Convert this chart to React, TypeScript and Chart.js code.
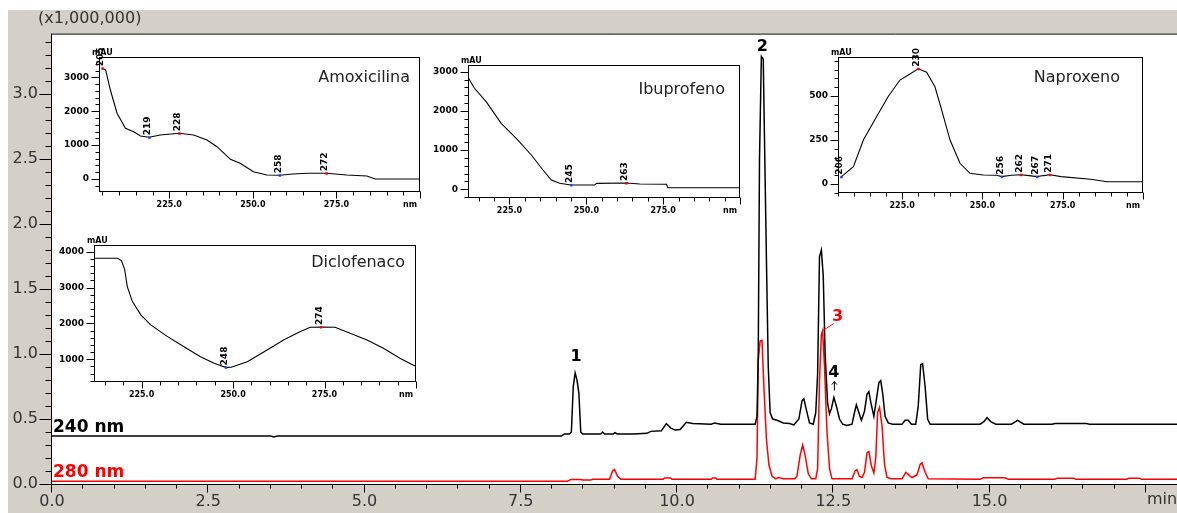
import React, { useEffect, useRef } from 'react';
import { Chart, registerables } from 'chart.js';

Chart.register(...registerables);

// Chromatogram, 240 nm channel: [retention time (min), signal (x1,000,000)]
const trace240: [number, number][] = [
  [0, 0.37], [3.5, 0.37], [3.55, 0.362], [3.6, 0.37], [8.15, 0.37], [8.2, 0.385],
  [8.28, 0.385], [8.31, 0.4], [8.34, 0.75], [8.37, 0.855], [8.4, 0.8], [8.43, 0.7], [8.46, 0.4], [8.49, 0.385],
  [8.78, 0.385], [8.81, 0.4], [8.84, 0.385], [8.98, 0.385], [9.01, 0.395], [9.04, 0.385], [9.3, 0.385],
  [9.52, 0.39], [9.58, 0.405], [9.75, 0.41], [9.83, 0.465], [9.9, 0.43], [9.97, 0.415], [10.05, 0.42],
  [10.15, 0.475], [10.25, 0.465], [10.55, 0.46], [10.6, 0.47], [10.7, 0.46], [11.25, 0.46],
  [11.28, 0.52], [11.3, 1.0], [11.32, 2.5], [11.35, 3.29], [11.38, 3.27], [11.4, 2.65], [11.43, 1.75],
  [11.46, 0.9], [11.49, 0.55], [11.53, 0.5], [11.6, 0.49], [11.7, 0.47], [11.8, 0.465], [11.87, 0.455],
  [11.95, 0.5], [12.0, 0.64], [12.03, 0.655], [12.07, 0.57], [12.12, 0.47], [12.18, 0.46],
  [12.22, 0.55], [12.25, 0.85], [12.28, 1.75], [12.31, 1.8], [12.34, 1.6], [12.37, 1.0], [12.41, 0.62],
  [12.44, 0.54], [12.47, 0.58], [12.51, 0.665], [12.55, 0.6], [12.6, 0.5], [12.65, 0.46], [12.72, 0.45],
  [12.8, 0.46], [12.84, 0.55], [12.87, 0.61], [12.91, 0.55], [12.95, 0.49], [13.0, 0.56], [13.04, 0.69],
  [13.07, 0.71], [13.1, 0.63], [13.15, 0.52], [13.19, 0.65], [13.23, 0.78], [13.26, 0.795], [13.29, 0.7],
  [13.33, 0.52], [13.38, 0.47], [13.45, 0.46], [13.6, 0.46], [13.65, 0.49], [13.7, 0.49], [13.75, 0.46],
  [13.82, 0.46], [13.86, 0.6], [13.9, 0.92], [13.93, 0.925], [13.97, 0.75], [14.01, 0.5], [14.05, 0.46],
  [14.85, 0.46], [14.91, 0.48], [14.96, 0.51], [15.02, 0.48], [15.1, 0.46], [15.35, 0.46], [15.45, 0.49],
  [15.55, 0.46], [16.0, 0.46], [16.05, 0.465], [16.55, 0.465], [16.6, 0.46], [17.2, 0.46], [18.0, 0.46],
];

// Chromatogram, 280 nm channel
const trace280: [number, number][] = [
  [0, 0.022], [8.25, 0.022], [8.3, 0.035], [8.45, 0.035], [8.5, 0.03], [8.62, 0.03], [8.65, 0.036],
  [8.92, 0.036], [8.97, 0.1], [9.0, 0.112], [9.05, 0.06], [9.1, 0.036], [9.78, 0.036], [9.8, 0.046],
  [9.9, 0.046], [9.92, 0.036], [10.55, 0.036], [10.57, 0.046], [10.62, 0.046], [10.64, 0.036],
  [11.25, 0.036], [11.28, 0.2], [11.3, 0.95], [11.33, 1.1], [11.36, 1.105], [11.39, 0.75], [11.43, 0.35],
  [11.47, 0.15], [11.52, 0.06], [11.58, 0.04], [11.62, 0.05], [11.7, 0.04], [11.88, 0.04], [11.92, 0.06],
  [11.97, 0.22], [12.01, 0.3], [12.05, 0.22], [12.1, 0.08], [12.15, 0.04], [12.22, 0.04], [12.25, 0.12],
  [12.28, 0.8], [12.31, 1.15], [12.33, 1.18], [12.36, 0.9], [12.4, 0.4], [12.44, 0.12], [12.48, 0.04],
  [12.8, 0.04], [12.85, 0.1], [12.88, 0.11], [12.92, 0.06], [12.96, 0.05], [13.0, 0.09], [13.04, 0.24],
  [13.07, 0.25], [13.11, 0.14], [13.15, 0.085], [13.18, 0.2], [13.21, 0.55], [13.24, 0.59], [13.28, 0.45],
  [13.32, 0.15], [13.36, 0.05], [13.42, 0.04], [13.6, 0.04], [13.66, 0.09], [13.72, 0.065], [13.76, 0.05],
  [13.84, 0.07], [13.89, 0.15], [13.92, 0.163], [13.97, 0.09], [14.02, 0.04], [14.85, 0.036], [14.9, 0.048],
  [15.25, 0.048], [15.3, 0.036], [16.05, 0.036], [16.08, 0.045], [16.35, 0.045], [16.38, 0.036],
  [17.2, 0.036], [17.23, 0.045], [17.4, 0.045], [17.43, 0.036], [18.0, 0.036],
];

const timeTicks = [0, 2.5, 5, 7.5, 10, 12.5, 15, 17.5];
const signalTicks = [0, 0.5, 1, 1.5, 2, 2.5, 3];

// Numbered peaks: label, retention time, channel it is marked on
const peakNames = ['1', '2', '3', '4'];
const peakTimes = [8.37, 11.35, 12.33, 12.51];
const peakChannels = ['240', '240', '280', '240'];

// UV spectra of the peaks: [wavelength (nm), absorbance (mAU)]
const amoxicilinaSpectrum: [number, number][] = [
  [205, 3265], [206, 3215], [207.4, 2625], [209.4, 1940], [211.9, 1495], [214.4, 1395], [216.4, 1268],
  [219, 1230], [222.3, 1298], [228, 1348], [232.3, 1298], [236.3, 1150], [239.3, 953], [243.3, 580],
  [246.2, 463], [250.2, 215], [254.2, 118], [258, 112], [262, 150], [266.2, 168], [272, 170], [278.1, 118],
  [284.1, 88], [286.6, 0], [300, 0],
];
const amoxicilinaMarks: [number, string][] = [[205, 'max'], [219, 'min'], [228, 'max'], [258, 'min'], [272, 'max']];

const ibuprofenoSpectrum: [number, number][] = [
  [211.7, 2832], [213.6, 2577], [217.4, 2235], [222.3, 1684], [227.2, 1301], [232.1, 875], [235.9, 492],
  [238.6, 237], [241.3, 153], [245, 110], [252.7, 110], [253.4, 150], [263, 160], [267.4, 135],
  [276.1, 130], [276.5, 41], [300, 41],
];
const ibuprofenoMarks: [number, string][] = [[245, 'min'], [263, 'max']];

const naproxenoSpectrum: [number, number][] = [
  [206, 41], [209.8, 98], [212.9, 250], [217, 382], [220.6, 496], [224.3, 591], [226.9, 620], [230, 655],
  [232.6, 635], [235.2, 553], [237.3, 420], [239.9, 250], [243, 118], [246.1, 61], [250.2, 51], [254.4, 50],
  [256, 42], [259, 50], [262, 53], [264.5, 48], [267, 42], [269, 48], [271, 53], [274.5, 42], [283.7, 27],
  [288.8, 13], [300, 13],
];
const naproxenoMarks: [number, string][] = [[206, 'min'], [230, 'max'], [256, 'min'], [262, 'max'], [267, 'min'], [271, 'max']];

const diclofenacoSpectrum: [number, number][] = [
  [212.3, 3816], [218.4, 3816], [219.5, 3750], [220.4, 3490], [221.1, 3025], [222.5, 2607], [224.8, 2237],
  [227.5, 1958], [232.1, 1632], [236.6, 1351], [241.1, 1073], [244.8, 888], [248, 775], [249.5, 777],
  [253.9, 934], [259.3, 1262], [263.8, 1540], [268.4, 1772], [271.1, 1894], [274, 1900], [277.9, 1894],
  [282, 1727], [286.6, 1540], [291.1, 1309], [295.6, 1030], [299.7, 816],
];
const diclofenacoMarks: [number, string][] = [[248, 'min'], [274, 'max']];

const spectrumTicks = [225, 250, 275];

// ---- layout ----
const PANEL_X = 8;
const PANEL_Y = 10;
const PANEL_W = 1169;
const PANEL_H = 503;
const PAD_L = 44;
const PAD_T = 18;
const PAD_R = 6;
const PAD_B = 22;

const AXIS_FONT = "'DejaVu Sans', sans-serif";

interface InsetCfg {
  name: string;
  points: [number, number][];
  marks: [number, string][];
  xMin: number;
  yMin: number;
  yMax: number;
  yTicks: number[];
  yMinor: number;
  frame: { l: number; t: number; r: number; b: number };
  titleDx: number;
  titleDy: number;
}

const insets: InsetCfg[] = [
  {
    name: 'Amoxicilina', points: amoxicilinaSpectrum, marks: amoxicilinaMarks,
    xMin: 204, yMin: -383, yMax: 3599, yTicks: [0, 1000, 2000, 3000], yMinor: 200,
    frame: { l: 99, t: 57, r: 420, b: 192 }, titleDx: 10, titleDy: 21,
  },
  {
    name: 'Ibuprofeno', points: ibuprofenoSpectrum, marks: ibuprofenoMarks,
    xMin: 211.5, yMin: -222, yMax: 3171, yTicks: [0, 1000, 2000, 3000], yMinor: 200,
    frame: { l: 468, t: 65, r: 740, b: 198 }, titleDx: 15, titleDy: 25,
  },
  {
    name: 'Naproxeno', points: naproxenoSpectrum, marks: naproxenoMarks,
    xMin: 205, yMin: -51, yMax: 722, yTicks: [0, 250, 500], yMinor: 50,
    frame: { l: 838, t: 57, r: 1143, b: 193 }, titleDx: 23, titleDy: 21,
  },
  {
    name: 'Diclofenaco', points: diclofenacoSpectrum, marks: diclofenacoMarks,
    xMin: 212, yMin: 368, yMax: 4184, yTicks: [1000, 2000, 3000, 4000], yMinor: 200,
    frame: { l: 94, t: 245, r: 416, b: 382 }, titleDx: 11, titleDy: 18,
  },
];

function insetBox(cfg: InsetCfg) {
  const f = cfg.frame;
  return {
    x: f.l - PANEL_X - PAD_L,
    y: f.t - PANEL_Y - PAD_T,
    w: f.r - f.l + PAD_L + PAD_R,
    h: f.b - f.t + PAD_T + PAD_B,
  };
}

function valueAt(series: [number, number][], x: number): number {
  const p = series.find((q) => q[0] === x);
  return p ? p[1] : 0;
}

const mainDecor = {
  id: 'mainDecor',
  beforeDraw(chart: any) {
    const { ctx, chartArea: a } = chart;
    ctx.save();
    ctx.fillStyle = '#ffffff';
    ctx.fillRect(a.left, a.top, a.right - a.left, a.bottom - a.top);
    ctx.restore();
  },
  afterDraw(chart: any) {
    const { ctx, chartArea: a } = chart;
    const xs = chart.scales.x;
    const ys = chart.scales.y;
    ctx.save();
    ctx.strokeStyle = '#000';
    ctx.lineWidth = 1;
    ctx.beginPath();
    ctx.moveTo(a.left - 0.5, a.top + 0.5);
    ctx.lineTo(a.right, a.top + 0.5);
    ctx.moveTo(a.left - 0.5, a.top);
    ctx.lineTo(a.left - 0.5, a.bottom + 1);
    ctx.moveTo(a.left - 1, a.bottom + 0.5);
    ctx.lineTo(a.right, a.bottom + 0.5);
    for (let i = 0; i <= 34; i++) {
      const y = Math.round(ys.getPixelForValue(i / 10)) + 0.5;
      const len = i % 5 === 0 ? 12 : 6;
      ctx.moveTo(a.left - 0.5 - len, y);
      ctx.lineTo(a.left - 0.5, y);
    }
    for (let i = 0; i <= 35; i++) {
      const x = Math.round(xs.getPixelForValue(i * 0.5)) - 0.5;
      const len = i % 5 === 0 ? 8 : 4;
      ctx.moveTo(x, a.bottom + 0.5);
      ctx.lineTo(x, a.bottom + 0.5 + len);
    }
    ctx.stroke();

    // scale factor and time unit
    ctx.fillStyle = '#333';
    ctx.font = `16px ${AXIS_FONT}`;
    ctx.textAlign = 'left';
    ctx.textBaseline = 'middle';
    ctx.fillText('(x1,000,000)', 30, 9);
    ctx.fillText('min', 1139, 490);

    // channel labels
    ctx.font = `bold 17px ${AXIS_FONT}`;
    ctx.textBaseline = 'alphabetic';
    ctx.fillStyle = '#000';
    ctx.fillText('240 nm', a.left + 1, ys.getPixelForValue(trace240[0][1]) - 4);
    ctx.fillStyle = '#ff0000';
    ctx.fillText('280 nm', a.left + 1, ys.getPixelForValue(trace280[0][1]) - 4);

    // numbered peaks
    ctx.font = `bold 16px ${AXIS_FONT}`;
    ctx.textAlign = 'center';
    ctx.textBaseline = 'middle';
    peakNames.forEach((name, i) => {
      const t = peakTimes[i];
      const series = peakChannels[i] === '280' ? trace280 : trace240;
      const px = xs.getPixelForValue(t);
      const py = ys.getPixelForValue(valueAt(series, t));
      if (peakChannels[i] === '280') {
        ctx.strokeStyle = '#ff0000';
        ctx.fillStyle = '#ff0000';
        ctx.beginPath();
        ctx.moveTo(px, py);
        ctx.lineTo(px + 11, py - 7);
        ctx.stroke();
        ctx.fillText(name, px + 15, py - 14);
      } else if (name === '4') {
        ctx.fillStyle = '#000';
        ctx.strokeStyle = '#000';
        ctx.fillText(name, px, py - 25);
        ctx.beginPath();
        ctx.moveTo(px + 0.5, py - 7);
        ctx.lineTo(px + 0.5, py - 16);
        ctx.moveTo(px - 2, py - 13);
        ctx.lineTo(px + 0.5, py - 16);
        ctx.lineTo(px + 3, py - 13);
        ctx.stroke();
      } else {
        ctx.fillStyle = '#000';
        ctx.fillText(name, px + 1, py - (name === '2' ? 10 : 16));
      }
    });
    ctx.restore();
  },
};

function buildMain(canvas: HTMLCanvasElement) {
  return new Chart(canvas, {
    type: 'line',
    data: {
      datasets: [
        {
          label: '240 nm',
          data: trace240.map(([x, y]) => ({ x, y })),
          borderColor: '#000000',
          borderWidth: 1.5,
          pointRadius: 0,
          tension: 0,
          fill: false,
        },
        {
          label: '280 nm',
          data: trace280.map(([x, y]) => ({ x, y })),
          borderColor: '#ff0000',
          borderWidth: 1.5,
          pointRadius: 0,
          tension: 0,
          fill: false,
        },
      ],
    },
    options: {
      animation: false,
      responsive: false,
      devicePixelRatio: 1,
      events: [],
      layout: { padding: { top: 20, right: 0, left: 0, bottom: 0 } },
      plugins: { legend: { display: false }, tooltip: { enabled: false } },
      scales: {
        x: {
          type: 'linear',
          min: 0,
          max: 18,
          afterFit: (s: any) => { s.height = PANEL_H - 474; },
          afterBuildTicks: (s: any) => { s.ticks = timeTicks.map((v) => ({ value: v })); },
          ticks: {
            callback: (v: any) => (Number(v) === 17.5 ? '' : Number(v).toFixed(1)),
            font: { family: AXIS_FONT, size: 16 },
            color: '#333',
            padding: 8,
            maxRotation: 0,
            autoSkip: false,
          },
          grid: { display: false, drawTicks: false },
          border: { display: false },
        },
        y: {
          min: 0,
          max: 3.466,
          afterFit: (s: any) => { s.width = 44; },
          afterBuildTicks: (s: any) => { s.ticks = signalTicks.map((v) => ({ value: v })); },
          ticks: {
            callback: (v: any) => Number(v).toFixed(1),
            font: { family: AXIS_FONT, size: 16 },
            color: '#333',
            padding: 14,
          },
          grid: { display: false, drawTicks: false },
          border: { display: false },
        },
      },
    } as any,
    plugins: [mainDecor],
  });
}

function insetDecor(cfg: InsetCfg) {
  return {
    id: 'insetDecor',
    afterDraw(chart: any) {
      const { ctx, chartArea: a } = chart;
      const xs = chart.scales.x;
      const ys = chart.scales.y;
      ctx.save();
      ctx.strokeStyle = '#000';
      ctx.lineWidth = 1;
      ctx.strokeRect(a.left + 0.5, a.top + 0.5, a.right - a.left - 1, a.bottom - a.top - 1);
      ctx.beginPath();
      const yStart = Math.ceil(cfg.yMin / cfg.yMinor) * cfg.yMinor;
      for (let v = yStart; v <= cfg.yMax; v += cfg.yMinor) {
        const major = cfg.yTicks.includes(v);
        const y = Math.round(ys.getPixelForValue(v)) + 0.5;
        ctx.moveTo(a.left + 0.5 - (major ? 8 : 4), y);
        ctx.lineTo(a.left + 0.5, y);
      }
      for (let w = Math.ceil(cfg.xMin / 5) * 5; w <= 300; w += 5) {
        const major = w % 25 === 0;
        const x = Math.round(xs.getPixelForValue(w)) + 0.5;
        ctx.moveTo(x, a.bottom - 0.5);
        ctx.lineTo(x, a.bottom - 0.5 + (major ? 7 : 4));
      }
      ctx.stroke();

      ctx.fillStyle = '#000';
      ctx.font = `bold 8px ${AXIS_FONT}`;
      ctx.textAlign = 'left';
      ctx.textBaseline = 'alphabetic';
      ctx.fillText('mAU', a.left - 7, a.top - 2);
      ctx.textAlign = 'right';
      ctx.textBaseline = 'middle';
      ctx.fillText('nm', a.right - 3, a.bottom + 13);

      ctx.font = `16px ${AXIS_FONT}`;
      ctx.fillStyle = '#222';
      ctx.fillText(cfg.name, a.right - cfg.titleDx, a.top + cfg.titleDy);

      // wavelength marks at spectral maxima / minima
      ctx.font = `bold 9px ${AXIS_FONT}`;
      cfg.marks.forEach(([nm, kind]) => {
        const px = xs.getPixelForValue(nm);
        const py = ys.getPixelForValue(valueAt(cfg.points, nm));
        ctx.fillStyle = kind === 'max' ? '#ff0000' : '#2040ff';
        ctx.fillRect(px - 1, py - 1, 2.5, 2.5);
        ctx.save();
        ctx.translate(px + 1, py - 2);
        ctx.rotate(-Math.PI / 2);
        ctx.fillStyle = '#000';
        ctx.textAlign = 'left';
        ctx.textBaseline = 'alphabetic';
        ctx.fillText(String(nm), 0, 0);
        ctx.restore();
      });
      ctx.restore();
    },
  };
}

function buildInset(canvas: HTMLCanvasElement, cfg: InsetCfg) {
  return new Chart(canvas, {
    type: 'line',
    data: {
      datasets: [
        {
          label: cfg.name,
          data: cfg.points.map(([x, y]) => ({ x, y })),
          borderColor: '#000',
          borderWidth: 1.1,
          pointRadius: 0,
          tension: 0,
          fill: false,
        },
      ],
    },
    options: {
      animation: false,
      responsive: false,
      devicePixelRatio: 1,
      events: [],
      layout: { padding: { top: PAD_T, right: PAD_R, left: 0, bottom: 0 } },
      plugins: { legend: { display: false }, tooltip: { enabled: false } },
      scales: {
        x: {
          type: 'linear',
          min: cfg.xMin,
          max: 300,
          afterFit: (s: any) => { s.height = PAD_B; },
          afterBuildTicks: (s: any) => { s.ticks = spectrumTicks.map((v) => ({ value: v })); },
          ticks: {
            callback: (v: any) => Number(v).toFixed(1),
            font: { family: AXIS_FONT, size: 8, weight: 'bold' },
            color: '#000',
            padding: 8,
            maxRotation: 0,
            autoSkip: false,
          },
          grid: { display: false, drawTicks: false },
          border: { display: false },
        },
        y: {
          min: cfg.yMin,
          max: cfg.yMax,
          afterFit: (s: any) => { s.width = PAD_L; },
          afterBuildTicks: (s: any) => { s.ticks = cfg.yTicks.map((v) => ({ value: v })); },
          ticks: {
            callback: (v: any) => String(v),
            font: { family: AXIS_FONT, size: 9, weight: 'bold' },
            color: '#000',
            padding: 10,
          },
          grid: { display: false, drawTicks: false },
          border: { display: false },
        },
      },
    } as any,
    plugins: [insetDecor(cfg)],
  });
}

export default function App() {
  const mainRef = useRef<HTMLCanvasElement | null>(null);
  const insetRefs = useRef<(HTMLCanvasElement | null)[]>([]);

  useEffect(() => {
    const charts: Chart[] = [];
    if (mainRef.current) charts.push(buildMain(mainRef.current));
    insets.forEach((cfg, i) => {
      const c = insetRefs.current[i];
      if (c) charts.push(buildInset(c, cfg));
    });
    return () => charts.forEach((c) => c.destroy());
  }, []);

  return (
    <div
      style={{
        position: 'absolute',
        left: PANEL_X,
        top: PANEL_Y,
        width: PANEL_W,
        height: PANEL_H,
        background: '#d4d0c8',
        overflow: 'hidden',
      }}
    >
      <canvas
        ref={mainRef}
        width={PANEL_W}
        height={PANEL_H}
        style={{ position: 'absolute', left: 0, top: 0, width: PANEL_W, height: PANEL_H }}
      />
      {insets.map((cfg, i) => {
        const g = insetBox(cfg);
        return (
          <canvas
            key={cfg.name}
            ref={(el) => { insetRefs.current[i] = el; }}
            width={g.w}
            height={g.h}
            style={{ position: 'absolute', left: g.x, top: g.y, width: g.w, height: g.h }}
          />
        );
      })}
    </div>
  );
}
